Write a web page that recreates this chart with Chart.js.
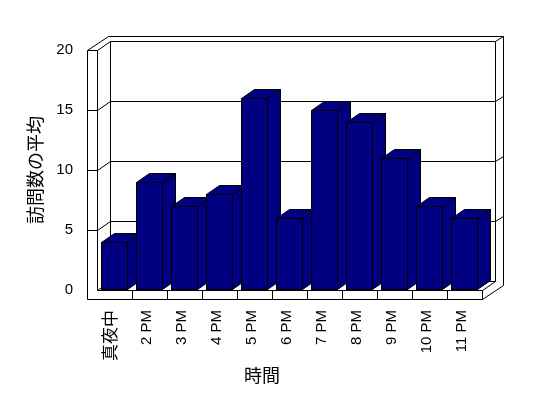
<!DOCTYPE html>
<html>
<head>
<meta charset="utf-8">
<script src="https://cdn.jsdelivr.net/npm/chart.js@4"></script>
<style>
  html, body { margin: 0; padding: 0; background: #fff; overflow: hidden; }
</style>
</head>
<body>
<canvas id="visitsChart" width="548" height="398"></canvas>
<script>
// values
const hours = ['真夜中', '2 PM', '3 PM', '4 PM', '5 PM', '6 PM', '7 PM', '8 PM', '9 PM', '10 PM', '11 PM'];
const avgVisits = [4, 9, 7, 8, 16, 6, 15, 14, 11, 7, 6];
const yMax = 20;
const yStep = 5;
const xTitle = '時間';
const yTitle = '訪問数の平均';

const LATIN = "'Liberation Sans', 'Noto Sans CJK JP', sans-serif";
const CJK = "'Noto Sans CJK JP', sans-serif";
const NAVY = '#000080';

// depth of the fake 3d box
const DX = 13, DY = -9;   // front -> back
const WX = 8, WY = -5;    // wall thickness behind the back plane
const LW = 10;            // left wall thickness
const FH = 9;             // floor thickness

const px = v => Math.round(v) + 0.5;

function poly(ctx, pts, fill) {
  ctx.beginPath();
  pts.forEach(([a, b], i) => i ? ctx.lineTo(a, b) : ctx.moveTo(a, b));
  if (fill) { ctx.closePath(); ctx.fillStyle = fill; ctx.fill(); }
  ctx.stroke();
}

const box3d = {
  id: 'box3d',
  beforeDatasetsDraw(chart) {
    const { ctx, chartArea: a, scales: { x, y } } = chart;
    const L = a.left, R = a.right;
    const T = y.getPixelForValue(yMax), B = y.getPixelForValue(0);
    ctx.save();
    ctx.lineWidth = 1;
    ctx.strokeStyle = '#000';

    // left wall
    poly(ctx, [[px(L - LW), px(B + FH)], [px(L - LW), px(T)], [px(L), px(T)], [px(L), px(B)]]);
    poly(ctx, [[px(L - LW), px(T)], [px(L + DX - 2), px(T + DY + WY)], [px(R + DX + WX), px(T + DY + WY)],
               [px(R + DX + WX), px(B + FH + DY + WY)]]);
    poly(ctx, [[px(L), px(T)], [px(L + DX), px(T + DY)], [px(R + DX), px(T + DY)], [px(R + DX), px(B + DY)]]);
    poly(ctx, [[px(R + DX), px(T + DY)], [px(R + DX + WX), px(T + DY + WY)]]);
    poly(ctx, [[px(L + DX), px(T + DY)], [px(L + DX), px(B + DY)], [px(R + DX), px(B + DY)]]);
    poly(ctx, [[px(L), px(B)], [px(L + DX), px(B + DY)]]);

    // gridlines around the walls
    for (let v = yStep; v < yMax; v += yStep) {
      const fy = y.getPixelForValue(v);
      poly(ctx, [[px(L - LW), px(fy)], [px(L), px(fy)], [px(L + DX), px(fy + DY)],
                 [px(R + DX), px(fy + DY)], [px(R + DX + WX), px(fy + DY + WY)]]);
    }

    // floor slab
    poly(ctx, [[px(L), px(B)], [px(R), px(B)], [px(R), px(B + FH)], [px(L - LW), px(B + FH)]]);
    poly(ctx, [[px(R), px(B)], [px(R + DX), px(B + DY)]]);
    poly(ctx, [[px(R), px(B + FH)], [px(R + DX + WX), px(B + FH + DY + WY)]]);
    const cw = (R - L) / hours.length;
    for (let i = 1; i < hours.length; i++) {
      poly(ctx, [[px(L + i * cw), px(B)], [px(L + i * cw), px(B + FH)]]);
    }

    // bar sides and tops, left to right; the fronts come from chart.js
    chart.getDatasetMeta(0).data.forEach(bar => {
      const { x: bx, y: by, base, width } = bar.getProps(['x', 'y', 'base', 'width'], true);
      const l = bx - width / 2 + 0.5, r = bx + width / 2 - 0.5;
      const t = by + 0.5, b = base - 0.5;
      poly(ctx, [[r, t], [r + DX, t + DY], [r + DX, b + DY], [r, b]], NAVY);
      poly(ctx, [[l, t], [l + DX, t + DY], [r + DX, t + DY], [r, t]], NAVY);
    });
    ctx.restore();
  },
  afterDraw(chart) {
    const { ctx } = chart;
    ctx.save();
    ctx.font = '18px ' + CJK;
    ctx.fillStyle = '#000';
    ctx.textAlign = 'center';
    ctx.textBaseline = 'middle';
    ctx.fillText(xTitle, 262, 375);
    ctx.restore();
  }
};

new Chart(document.getElementById('visitsChart').getContext('2d'), {
  type: 'bar',
  data: {
    labels: hours,
    datasets: [{
      label: yTitle,
      data: avgVisits,
      backgroundColor: NAVY,
      borderColor: '#000',
      borderWidth: 1,
      borderSkipped: false,
      categoryPercentage: 27 / 35,
      barPercentage: 1
    }]
  },
  options: {
    responsive: false,
    animation: false,
    layout: { padding: { top: 50, right: 66, bottom: 0, left: 0 } },
    plugins: {
      legend: { display: false },
      tooltip: { enabled: false }
    },
    scales: {
      x: {
        grid: { display: false, drawTicks: false },
        border: { display: false },
        afterFit: s => { s.height = 108; },
        ticks: {
          autoSkip: false,
          minRotation: 90,
          maxRotation: 90,
          padding: 20,
          labelOffset: -3,
          color: '#000',
          font: c => ({ family: LATIN, size: c.index === 0 ? 17 : 15 })
        }
      },
      y: {
        min: 0,
        max: yMax,
        grid: { display: false, drawTicks: false },
        border: { display: false },
        afterFit: s => { s.width = 97; },
        ticks: {
          stepSize: yStep,
          padding: 24,
          color: '#000',
          font: { family: LATIN, size: 15 }
        },
        title: {
          display: true,
          text: yTitle,
          color: '#000',
          padding: { top: 24, bottom: 0 },
          font: { family: CJK, size: 18 }
        }
      }
    }
  },
  plugins: [box3d]
});
</script>
</body>
</html>
